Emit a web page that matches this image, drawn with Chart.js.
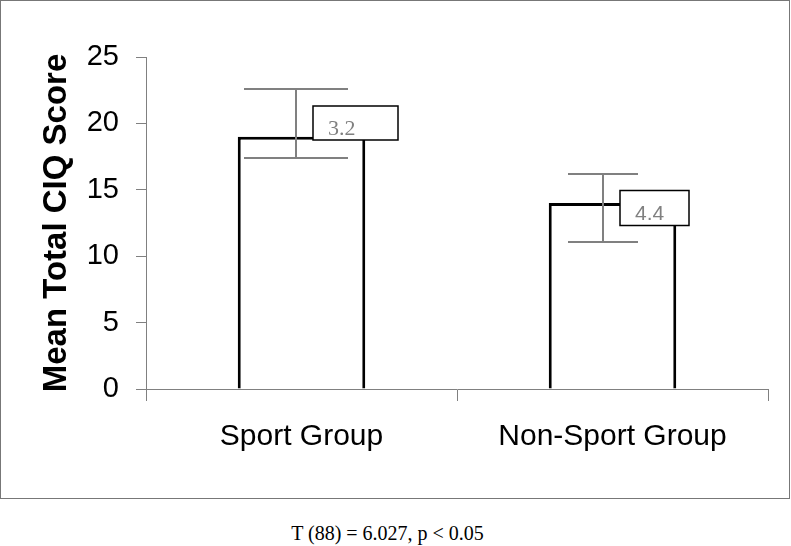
<!DOCTYPE html>
<html>
<head>
<meta charset="utf-8">
<script src="https://cdn.jsdelivr.net/npm/chart.js@4.4.0/dist/chart.umd.min.js"></script>
<style>
    body { margin: 0; background: #fff; width: 791px; height: 546px; overflow: hidden; }
    #marco { position: absolute; left: 0; top: 0; width: 788px; height: 497px; border: 1px solid #777; }
    #pie { position: absolute; left: 0; top: 523px; width: 775px; text-align: center;
           font: 20px "Liberation Serif", "Times New Roman", serif; line-height: 20px; color: #000; }
</style>
</head>
<body>
<div id="marco"><canvas id="grafico" width="788" height="497"></canvas></div>
<div id="pie">T (88) = 6.027, p &lt; 0.05</div>
<script>
// Datos
const categorias = ['Sport Group', 'Non-Sport Group']
const medias = [19.0, 14.0]
const errorArriba = [22.6, 16.2]
const errorAbajo = [17.4, 11.1]
const etiquetasDE = ['3.2', '4.4']
const ticksY = [0, 5, 10, 15, 20, 25]

// Barras de error y cajitas con la desviacion
const barrasError = {
    id: 'barrasError',
    afterDatasetsDraw(chart, args, opts) {
        const ctx = chart.ctx
        const y = chart.scales.y
        const meta = chart.getDatasetMeta(0)

        meta.data.forEach((barra, i) => {
            const x = Math.round(barra.x + opts.desfase[i])
            const yArriba = Math.round(y.getPixelForValue(errorArriba[i]))
            const yAbajo = Math.round(y.getPixelForValue(errorAbajo[i]))
            const mitad = opts.anchoTope[i] / 2

            ctx.save()
            ctx.strokeStyle = '#808080'
            ctx.lineWidth = 2
            ctx.beginPath()
            ctx.moveTo(x, yArriba)
            ctx.lineTo(x, yAbajo)
            ctx.moveTo(x - mitad, yArriba)
            ctx.lineTo(x + mitad, yArriba)
            ctx.moveTo(x - mitad, yAbajo)
            ctx.lineTo(x + mitad, yAbajo)
            ctx.stroke()

            // caja
            const ancho = opts.anchoCaja[i]
            const alto = opts.altoCaja[i]
            const cx = x + 17
            const cy = yArriba + 34 - alto / 2
            ctx.fillStyle = '#fff'
            ctx.fillRect(cx, cy, ancho, alto)
            ctx.strokeStyle = '#000'
            ctx.lineWidth = 1.5
            ctx.strokeRect(cx, cy, ancho, alto)

            ctx.fillStyle = '#808080'
            ctx.font = opts.fuentes[i]
            ctx.textAlign = 'left'
            ctx.textBaseline = 'alphabetic'
            ctx.fillText(etiquetasDE[i], cx + 15, cy + 29)
            ctx.restore()
        })
    }
}

const data = {
    labels: categorias,
    datasets: [
        {
            data: medias,
            backgroundColor: '#fff',
            borderColor: '#000',
            borderWidth: 3,
            borderSkipped: 'bottom',
            categoryPercentage: 1,
            barPercentage: 0.41
        },
    ],
}

const config = {
    type: 'bar',
    data: data,
    options: {
        responsive: false,
        animation: false,
        layout: { padding: { top: 56, right: 21, bottom: 0, left: 0 } },
        plugins: {
            legend: { display: false },
            tooltip: { enabled: false },
            barrasError: {
                desfase: [-6, -10],
                anchoTope: [104, 70],
                anchoCaja: [85, 69],
                altoCaja: [34, 35],
                fuentes: ['22px "Liberation Serif"', '21px "Liberation Sans"']
            }
        },
        scales: {
            x: {
                offset: true,
                grid: { offset: true, drawOnChartArea: false, drawTicks: true, tickLength: 12, color: '#808080' },
                border: { color: '#808080', width: 1 },
                ticks: { color: '#000', padding: 18, font: { family: 'Liberation Sans', size: 30 } },
                afterFit: s => { s.height = 109 }
            },
            y: {
                min: ticksY[0],
                max: ticksY[ticksY.length - 1],
                afterBuildTicks: s => { s.ticks = ticksY.map(v => ({ value: v })) },
                grid: { drawOnChartArea: false, tickLength: 10, color: '#808080' },
                border: { color: '#808080', width: 1 },
                ticks: { color: '#000', padding: 17, font: { family: 'Liberation Sans', size: 29 } },
                title: {
                    display: true,
                    text: 'Mean Total CIQ Score',
                    color: '#000',
                    font: { family: 'Liberation Sans', size: 33, weight: 'bold' },
                    padding: { top: 36, bottom: 0 }
                },
                afterFit: s => { s.width = 145 }
            }
        }
    },
    plugins: [barrasError]
}

new Chart(document.getElementById('grafico'), config)
</script>
</body>
</html>
